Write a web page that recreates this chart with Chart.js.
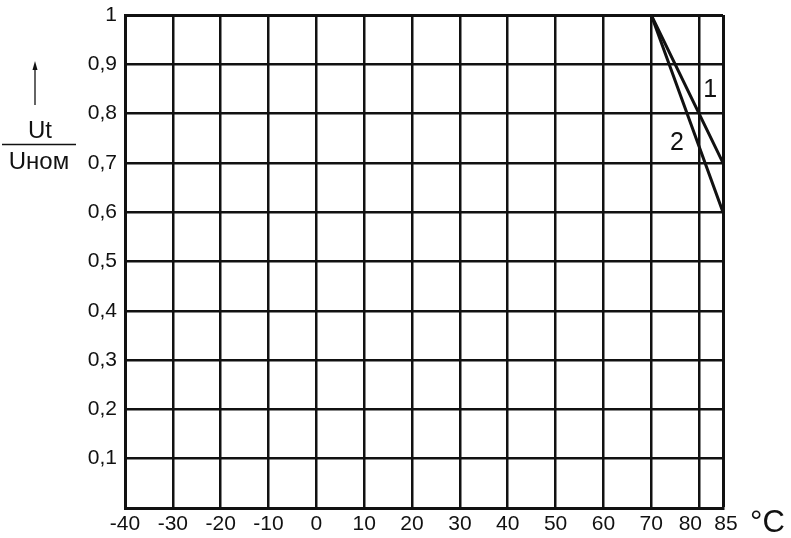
<!DOCTYPE html>
<html>
<head>
<meta charset="utf-8">
<script src="https://cdn.jsdelivr.net/npm/chart.js@4.4.1/dist/chart.umd.min.js"></script>
<style>
  html, body { margin: 0; padding: 0; background: #fff; }
  #wrap { width: 791px; height: 538px; }
</style>
</head>
<body>
<div id="wrap"><canvas id="chart" width="791" height="538"></canvas></div>
<script>
const temps = [-40, 70, 85];
const curve1 = [1, 1, 0.7];
const curve2 = [1, 1, 0.6];
const xTicks = [-40, -30, -20, -10, 0, 10, 20, 30, 40, 50, 60, 70, 80, 85];
const yTicks = [0.1, 0.2, 0.3, 0.4, 0.5, 0.6, 0.7, 0.8, 0.9, 1];
const curveLabels = ['1', '2'];

const FONT = '"Liberation Sans", Arial, sans-serif';

const extras = {
  id: 'extras',
  afterDraw(chart) {
    const { ctx, scales: { x, y } } = chart;
    ctx.save();
    ctx.fillStyle = '#111';
    ctx.strokeStyle = '#111';
    ctx.textAlign = 'center';
    ctx.textBaseline = 'middle';

    // curve numbers
    ctx.font = '25px ' + FONT;
    ctx.fillText(curveLabels[0], x.getPixelForValue(82.3), y.getPixelForValue(0.848));
    ctx.fillText(curveLabels[1], x.getPixelForValue(75.4), y.getPixelForValue(0.74));

    // unit on x axis
    ctx.font = '31px ' + FONT;
    ctx.textAlign = 'left';
    ctx.fillText('°C', 750, 523);

    // y axis title: arrow + fraction
    ctx.lineWidth = 1.3;
    ctx.beginPath();
    ctx.moveTo(35, 105);
    ctx.lineTo(35, 66);
    ctx.stroke();
    ctx.beginPath();
    ctx.moveTo(35, 61);
    ctx.lineTo(32.5, 70);
    ctx.lineTo(37.5, 70);
    ctx.closePath();
    ctx.fill();

    ctx.textAlign = 'center';
    ctx.font = '24px ' + FONT;
    ctx.fillText('Ut', 40, 131);
    ctx.beginPath();
    ctx.moveTo(2, 144.5);
    ctx.lineTo(76, 144.5);
    ctx.stroke();
    ctx.fillText('Uном', 39, 162);
    ctx.restore();
  }
};

const gridWidth = c => (c.tick && (c.tick.value === 85 || c.tick.value === 1)) ? 3 : 2.5;

const xLabel = v => v === 80 ? '80   ' : v === 85 ? ' 85' : String(v);

new Chart(document.getElementById('chart').getContext('2d'), {
  type: 'line',
  data: {
    datasets: [
      { label: curveLabels[0], data: temps.map((t, i) => ({ x: t, y: curve1[i] })) },
      { label: curveLabels[1], data: temps.map((t, i) => ({ x: t, y: curve2[i] })) }
    ].map(d => Object.assign(d, {
      borderColor: '#111', borderWidth: 3, pointRadius: 0, tension: 0, fill: false
    }))
  },
  options: {
    responsive: false,
    animation: false,
    layout: { padding: { top: 15, right: 68, left: 0, bottom: 0 } },
    plugins: { legend: { display: false }, tooltip: { enabled: false } },
    scales: {
      x: {
        type: 'linear', min: -40, max: 85,
        afterBuildTicks: s => { s.ticks = xTicks.map(v => ({ value: v })); },
        afterFit: s => { s.height = 30; },
        ticks: { color: '#111', font: { family: FONT, size: 21 }, padding: 4, maxRotation: 0, autoSkip: false, callback: xLabel },
        grid: { color: '#111', lineWidth: gridWidth, drawTicks: false },
        border: { color: '#111', width: 3 }
      },
      y: {
        type: 'linear', min: 0, max: 1,
        afterBuildTicks: s => { s.ticks = yTicks.map(v => ({ value: v })); },
        afterFit: s => { s.width = 125; s.paddingTop = 0; s.paddingBottom = 0; },
        ticks: {
          color: '#111', font: { family: FONT, size: 21 }, padding: 8, autoSkip: false,
          callback: v => String(v).replace('.', ',')
        },
        grid: { color: '#111', lineWidth: gridWidth, drawTicks: false },
        border: { color: '#111', width: 3 }
      }
    }
  },
  plugins: [extras]
});
</script>
</body>
</html>
